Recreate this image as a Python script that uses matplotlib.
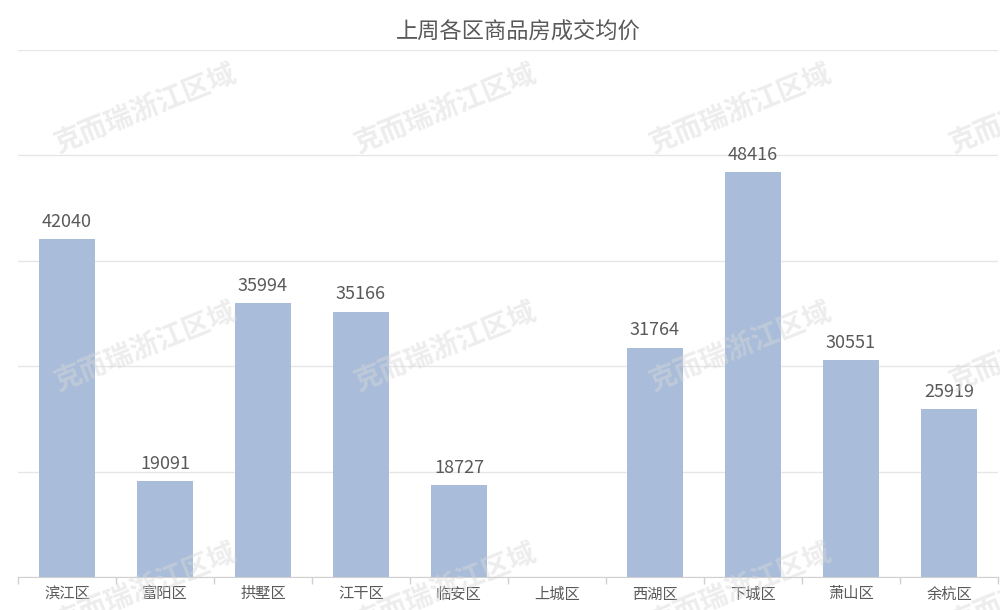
import matplotlib
matplotlib.use("Agg")
import matplotlib.pyplot as plt
import numpy as np

plt.rcParams['font.family'] = ['Noto Sans CJK SC', 'DejaVu Sans']

categories = ["滨江区", "富阳区", "拱墅区", "江干区", "临安区", "上城区", "西湖区", "下城区", "萧山区", "余杭区"]
values = [42040, 19091, 35994, 35166, 18727, None, 31764, 48416, 30551, 25919]
title = "上周各区商品房成交均价"
watermark = "克而瑞浙江区域"

bar_color = "#A9BDDA"
text_color = "#595959"

fig = plt.figure(figsize=(10, 6.1), dpi=100)
ax = fig.add_axes([0.018, 0.054, 0.98, 0.864])

x = np.arange(len(categories))
for xi, v in zip(x, values):
    if v is None:
        continue
    ax.bar(xi, v, width=0.57, color=bar_color, zorder=3)
    ax.annotate(f"{v}", (xi, v), xytext=(0, 6), textcoords="offset points",
                ha="center", va="bottom", fontsize=13, color=text_color, zorder=4)

ax.set_xlim(-0.5, len(categories) - 0.5)
ax.set_ylim(10000, 60000)
ax.set_yticks(np.arange(10000, 60001, 10000))
ax.yaxis.grid(True, color="#e6e6e6", linewidth=1, zorder=0)
ax.tick_params(axis="y", left=False, labelleft=False)
ax.set_xticks(x)
ax.set_xticklabels(categories, fontsize=11, color=text_color)
ax.tick_params(axis="x", length=0, pad=6)
ax.set_xticks(np.arange(-0.5, len(categories), 1), minor=True)
ax.tick_params(axis="x", which="minor", length=5, color="#d0d0d0", width=1)
for s in ["left", "right", "top"]:
    ax.spines[s].set_visible(False)
ax.spines["bottom"].set_color("#d0d0d0")

fig.text(0.518, 0.948, title, ha="center", va="center", fontsize=16, color=text_color)

# watermarks
for wy in [0.82, 0.43, 0.035]:
    for wx in [0.145, 0.445, 0.74, 1.04]:
        fig.text(wx, wy, watermark, ha="center", va="center", fontsize=20,
                 fontweight="bold", color="#d8d8d8", alpha=0.45, rotation=22, zorder=10)

fig.savefig("out.png", dpi=100)
